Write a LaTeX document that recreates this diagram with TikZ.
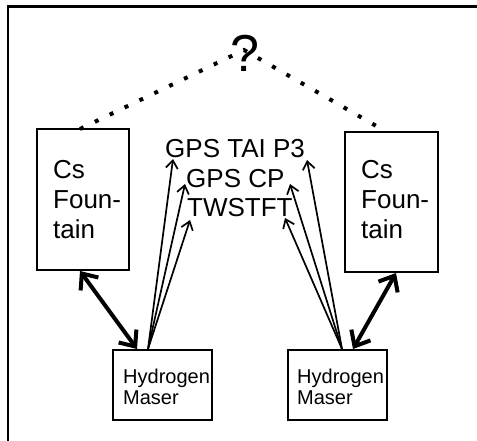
\documentclass[tikz,border=0pt]{standalone}
\usepackage{fontspec}
\setmainfont{Liberation Sans}
\usetikzlibrary{arrows.meta}
\begin{document}
\begin{tikzpicture}[x=1pt,y=-1pt,
  box/.style={draw,line width=2.5pt,inner sep=0pt},
  label/.style={anchor=base west,inner sep=0pt,font=\fontsize{26}{29.5}\selectfont},
  small/.style={anchor=base west,inner sep=0pt,align=left,font=\fontsize{20}{21}\selectfont},
  link/.style={line width=1.7pt,-{Straight Barb[length=8pt,width=12pt,line width=1.7pt]}},
  heavy/.style={line width=4pt,{Straight Barb[length=13pt,width=22pt,line width=4pt]}-{Straight Barb[length=13pt,width=22pt,line width=4pt]}},
  dots/.style={line width=4pt,dash pattern=on 4pt off 12.5pt}]
\useasboundingbox (0,0) rectangle (477,441);
\fill[white] (0,0) rectangle (477,441);
% outer frame (only top and left edges fall inside the page)
\draw[line width=2.5pt] (8,6.5) rectangle (500,470);

% clock boxes
\draw[box] (37,129) rectangle (129,270);
\draw[box] (345,132) rectangle (438,272);
\draw[box] (113,350) rectangle (212,420);
\draw[box] (288,350) rectangle (387,420);

% box texts (base anchor sits on the last line)
\node[label,align=left] (csl) at (53,238) {Cs\\Foun-\\tain};
\node[label,align=left] (csr) at (361,238) {Cs\\Foun-\\tain};
\node[small] (hml) at (123,404) {Hydrogen\\Maser};
\node[small] (hmr) at (297,404) {Hydrogen\\Maser};

% comparison methods
\node[label] (tai) at (165,158) {GPS TAI P3};
\node[label] (cp) at (186,188) {GPS CP};
\node[label] (tw) at (187,216) {TWSTFT};

% question mark and dotted links
\coordinate (apex) at (244,50);
\coordinate (cltop) at (80,129);
\coordinate (crtop) at (385,131);
\draw[dots] (cltop) -- (apex) -- (crtop);
\node[inner sep=1pt,font=\fontsize{52}{52}\selectfont] (q) at (245,53) {?};

% arrow ends
\coordinate (hlt) at (148,349);
\coordinate (hrt) at (342,349);
\coordinate (l1) at (173,159);
\coordinate (l2) at (185,184);
\coordinate (l3) at (190,220);
\coordinate (r1) at (307,160);
\coordinate (r2) at (290,184);
\coordinate (r3) at (285,218);
\draw[link] (hlt) -- (l1);
\draw[link] (hlt) -- (l2);
\draw[link] (hlt) -- (l3);
\draw[link] (hrt) -- (r1);
\draw[link] (hrt) -- (r2);
\draw[link] (hrt) -- (r3);

% frequency transfer between fountain and maser
\coordinate (cslb) at (80,271);
\coordinate (hlb) at (137,349);
\coordinate (csrb) at (396,273);
\coordinate (hrb) at (353,349);
\draw[heavy] (cslb) -- (hlb);
\draw[heavy] (csrb) -- (hrb);
\end{tikzpicture}
\end{document}
